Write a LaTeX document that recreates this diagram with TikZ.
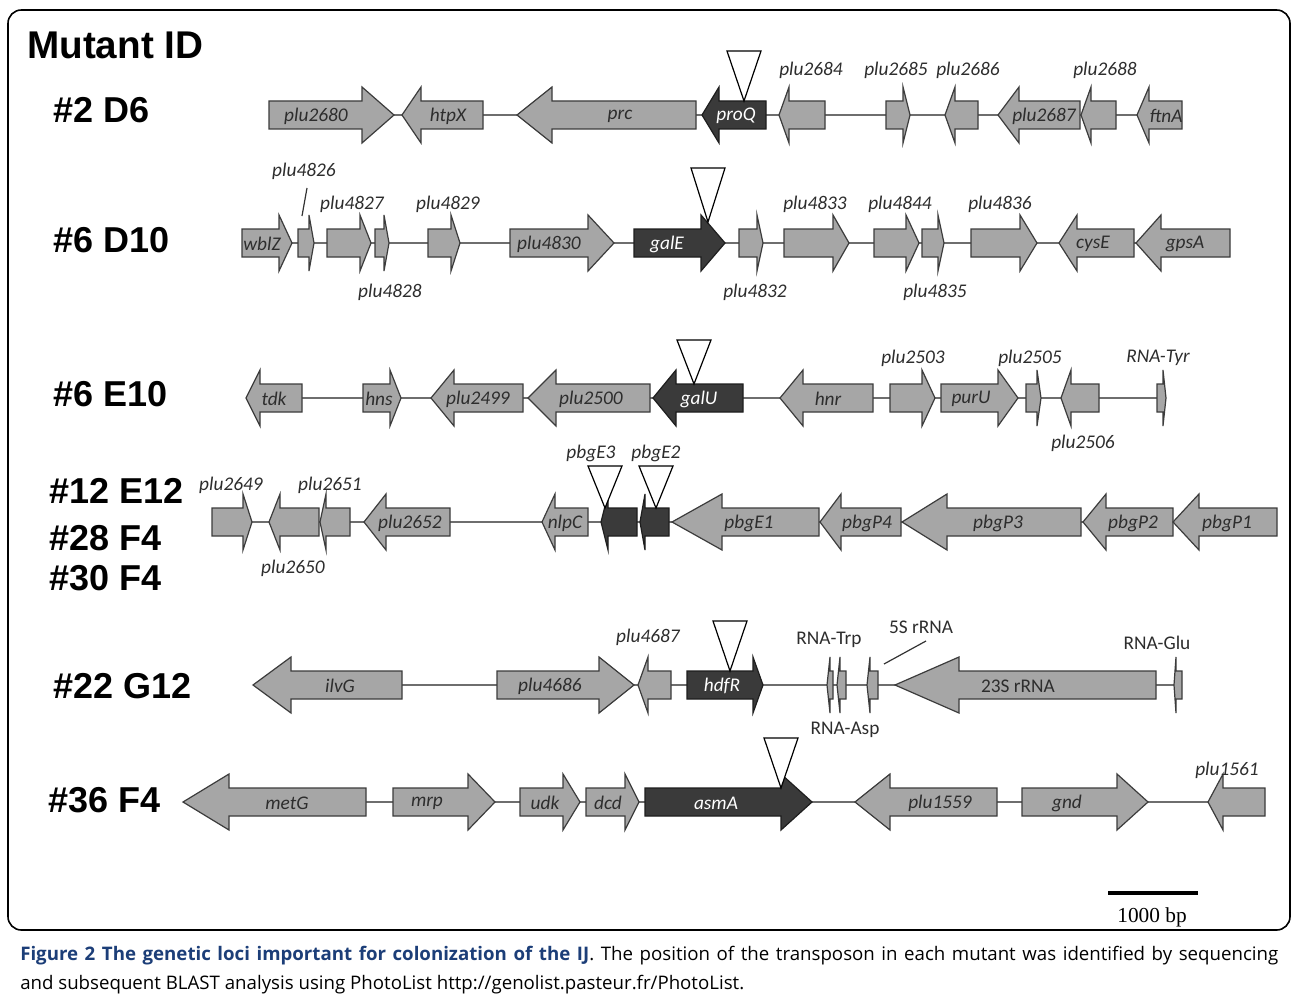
\documentclass[tikz,border=0pt]{standalone}
\usepackage{fontspec}
\setmainfont{Liberation Sans}
\newfontfamily\carl{Carlito}
\newfontfamily\osans{Open Sans}
\newfontfamily\lserif{Liberation Serif}
\definecolor{gfill}{RGB}{166,166,166}
\definecolor{gline}{RGB}{60,60,60}
\definecolor{dfill}{RGB}{58,58,58}
\definecolor{dline}{RGB}{30,30,30}
\definecolor{bbline}{RGB}{110,110,110}
\definecolor{labc}{RGB}{45,45,45}
\definecolor{capblue}{RGB}{28,62,120}
\newcommand{\genearrow}[6]{%
  \draw[#1] (#2,#5-14) -- (#3,#5-14) -- (#3,#5-28) -- (#4,#5) -- (#3,#5+28) -- (#3,#5+14) -- (#2,#5+14) -- cycle;
  \coordinate (#6) at ({(#2+#4)/2},#5);}
\newcommand{\tnmark}[4]{%
  \draw[tri] (#1-17,#2-#3) -- (#1+17,#2-#3) -- (#1,#2) -- cycle;
  \coordinate (#4) at (#1,#2);}
\tikzset{
  geneG/.style={fill=gfill, draw=gline, line width=0.9pt, line join=miter},
  geneD/.style={fill=dfill, draw=dline, line width=0.9pt, line join=miter},
  bb/.style={draw=bbline, line width=1.1pt},
  lab/.style={font=\carl\itshape\fontsize{14.5}{16}\selectfont, text=labc, inner sep=0pt},
  labw/.style={lab, text=white},
  labu/.style={font=\carl\fontsize{14.5}{16}\selectfont, text=labc, inner sep=0pt},
  tri/.style={draw=black, fill=white, line width=0.9pt, line join=miter},
  mid/.style={font=\bfseries\fontsize{27}{30}\selectfont, anchor=west, inner sep=0pt},
  leader/.style={draw=black!80, line width=0.9pt},
  frame/.style={draw=black, line width=1.2pt, rounded corners=10pt},
  capt/.style={font=\osans\fontsize{14}{16}\selectfont, anchor=west, inner sep=0pt},
}
\begin{document}
\begin{tikzpicture}[x=0.75pt,y=-0.75pt]
\useasboundingbox (0,0) rectangle (1293,999);
\fill[white] (0,0) rectangle (1293,999);
\draw[frame] (8,10) rectangle (1290,930);

% titles
\node[mid, font=\bfseries\fontsize{29}{32}\selectfont] (title) at (27,45) {Mutant ID};
\node[mid] (m1) at (53,110) {\#2 D6};
\node[mid] (m2) at (53,240) {\#6 D10};
\node[mid] (m3) at (53,394) {\#6 E10};
\node[mid] (m4a) at (49,491) {\#12 E12};
\node[mid] (m4b) at (49,538) {\#28 F4};
\node[mid] (m4c) at (49,578) {\#30 F4};
\node[mid] (m5) at (53,686) {\#22 G12};
\node[mid] (m6) at (48,800) {\#36 F4};

% ---------------- Row 1
\coordinate (r1s) at (269,115); \coordinate (r1e) at (1182,115);
\draw[bb] (r1s) -- (r1e);
\genearrow{geneG}{269}{362}{394}{115}{a1}
\genearrow{geneG}{483}{421}{402}{115}{a2}
\genearrow{geneG}{696}{552}{517}{115}{a3}
\genearrow{geneD}{766}{719}{702}{115}{a4}
\genearrow{geneG}{825}{789}{779}{115}{a5}
\genearrow{geneG}{886}{903}{910}{115}{a6}
\genearrow{geneG}{978}{955}{945}{115}{a7}
\genearrow{geneG}{1080}{1019}{998}{115}{a8}
\genearrow{geneG}{1116}{1091}{1081}{115}{a9}
\genearrow{geneG}{1182}{1149}{1137}{115}{a10}
\node[lab] (a1l) at (316,116) {plu2680};
\node[lab] (a2l) at (448,116) {htpX};
\node[lab] (a3l) at (620,116) {prc};
\node[labw] (a4l) at (736,116) {proQ};
\node[lab] (a5l) at (811,70) {plu2684};
\node[lab] (a6l) at (896,70) {plu2685};
\node[lab] (a7l) at (968,70) {plu2686};
\node[lab] (a8l) at (1044,116) {plu2687};
\node[lab] (a9l) at (1105,70) {plu2688};
\node[lab] (a10l) at (1166,116) {ftnA};
\tnmark{744}{101}{50}{t1}

% ---------------- Row 2
\coordinate (r2s) at (242,243); \coordinate (r2e) at (1230,243);
\draw[bb] (r2s) -- (r2e);
\genearrow{geneG}{242}{279}{292}{243}{b1}
\genearrow{geneG}{298}{309}{314}{243}{b2}
\genearrow{geneG}{327}{360}{371}{243}{b3}
\genearrow{geneG}{375}{384}{389}{243}{b4}
\genearrow{geneG}{428}{451}{460}{243}{b5}
\genearrow{geneG}{510}{588}{614}{243}{b6}
\genearrow{geneD}{634}{701}{725}{243}{b7}
\genearrow{geneG}{739}{757}{763}{243}{b8}
\genearrow{geneG}{784}{833}{849}{243}{b9}
\genearrow{geneG}{874}{906}{919}{243}{b10}
\genearrow{geneG}{922}{938}{944}{243}{b11}
\genearrow{geneG}{971}{1020}{1037}{243}{b12}
\genearrow{geneG}{1134}{1077}{1059}{243}{b13}
\genearrow{geneG}{1230}{1161}{1136}{243}{b14}
\node[lab] (b1l) at (262,244) {wblZ};
\node[lab] (b2l) at (304,171) {plu4826};
\coordinate (ld1a) at (307,188); \coordinate (ld1b) at (302,216);
\draw[leader] (ld1a) -- (ld1b);
\node[lab] (b3l) at (352,204) {plu4827};
\node[lab] (b4l) at (390,292) {plu4828};
\node[lab] (b5l) at (448,204) {plu4829};
\node[lab] (b6l) at (549,244) {plu4830};
\node[labw] (b7l) at (667,244) {galE};
\node[lab] (b8l) at (755,292) {plu4832};
\node[lab] (b9l) at (815,204) {plu4833};
\node[lab] (b10l) at (900,204) {plu4844};
\node[lab] (b11l) at (935,292) {plu4835};
\node[lab] (b12l) at (1000,204) {plu4836};
\node[lab] (b13l) at (1093,244) {cysE};
\node[lab] (b14l) at (1185,244) {gpsA};
\tnmark{708}{222}{54}{t2}

% ---------------- Row 3
\coordinate (r3s) at (246,398); \coordinate (r3e) at (1166,398);
\draw[bb] (r3s) -- (r3e);
\genearrow{geneG}{302}{260}{246}{398}{c1}
\genearrow{geneG}{363}{390}{401}{398}{c2}
\genearrow{geneG}{523}{454}{431}{398}{c3}
\genearrow{geneG}{650}{556}{528}{398}{c4}
\genearrow{geneD}{743}{676}{653}{398}{c5}
\genearrow{geneG}{873}{803}{780}{398}{c6}
\genearrow{geneG}{890}{922}{935}{398}{c7}
\genearrow{geneG}{941}{998}{1018}{398}{c8}
\genearrow{geneG}{1026}{1037}{1041}{398}{c9}
\genearrow{geneG}{1099}{1071}{1061}{398}{c10}
\genearrow{geneG}{1157}{1163}{1166}{398}{c11}
\node[lab] (c1l) at (274,399) {tdk};
\node[lab] (c2l) at (379,399) {hns};
\node[lab] (c3l) at (478,399) {plu2499};
\node[lab] (c4l) at (591,399) {plu2500};
\node[labw] (c5l) at (699,399) {galU};
\node[lab] (c6l) at (828,399) {hnr};
\node[lab] (c7l) at (913,358) {plu2503};
\node[lab] (c8l) at (971,399) {purU};
\node[lab] (c9l) at (1030,358) {plu2505};
\node[lab] (c10l) at (1083,443) {plu2506};
\node[lab] (c11l) at (1158,358) {RNA-Tyr};
\tnmark{694}{384}{44}{t3}

% ---------------- Row 4
\coordinate (r4s) at (212,522); \coordinate (r4e) at (1277,522);
\draw[bb] (r4s) -- (r4e);
\genearrow{geneG}{212}{243}{252}{522}{d1}
\genearrow{geneG}{319}{280}{269}{522}{d2}
\genearrow{geneG}{350}{326}{320}{522}{d3}
\genearrow{geneG}{450}{386}{364}{522}{d4}
\genearrow{geneG}{588}{555}{542}{522}{d5}
\genearrow{geneD}{637}{608}{601}{522}{d6}
\genearrow{geneD}{669}{645}{640}{522}{d7}
\genearrow{geneG}{819}{722}{672}{522}{d8}
\genearrow{geneG}{901}{841}{820}{522}{d9}
\genearrow{geneG}{1081}{947}{902}{522}{d10}
\genearrow{geneG}{1173}{1106}{1083}{522}{d11}
\genearrow{geneG}{1277}{1199}{1173}{522}{d12}
\node[lab] (d1l) at (231,485) {plu2649};
\node[lab] (d2l) at (293,568) {plu2650};
\node[lab] (d3l) at (330,485) {plu2651};
\node[lab] (d4l) at (410,523) {plu2652};
\node[lab] (d5l) at (565,523) {nlpC};
\node[lab] (d6l) at (591,453) {pbgE3};
\node[lab] (d7l) at (656,453) {pbgE2};
\node[lab] (d8l) at (749,523) {pbgE1};
\node[lab] (d9l) at (867,523) {pbgP4};
\node[lab] (d10l) at (998,523) {pbgP3};
\node[lab] (d11l) at (1133,523) {pbgP2};
\node[lab] (d12l) at (1227,523) {pbgP1};
\tnmark{605}{508}{42}{t4}
\tnmark{656}{508}{42}{t5}

% ---------------- Row 5
\coordinate (r5s) at (253,685); \coordinate (r5e) at (1182,685);
\draw[bb] (r5s) -- (r5e);
\genearrow{geneG}{402}{291}{253}{685}{e1}
\genearrow{geneG}{497}{599}{634}{685}{e2}
\genearrow{geneG}{671}{648}{638}{685}{e3}
\genearrow{geneD}{687}{753}{763}{685}{e4}
\genearrow{geneG}{833}{830}{827}{685}{e5}
\genearrow{geneG}{846}{840}{837}{685}{e6}
\genearrow{geneG}{878}{870}{867}{685}{e7}
\genearrow{geneG}{1156}{959}{895}{685}{e8}
\genearrow{geneG}{1182}{1176}{1174}{685}{e9}
\node[lab] (e1l) at (340,686) {ilvG};
\node[lab] (e2l) at (550,686) {plu4686};
\node[lab] (e3l) at (648,637) {plu4687};
\node[labw] (e4l) at (722,686) {hdfR};
\node[labu] (e5l) at (829,640) {RNA-Trp};
\node[labu] (e6l) at (845,730) {RNA-Asp};
\node[labu] (e7l) at (921,627) {5S rRNA};
\coordinate (ld2a) at (884,664); \coordinate (ld2b) at (926,641);
\draw[leader] (ld2a) -- (ld2b);
\node[labu] (e8l) at (1018,686) {23S rRNA};
\node[labu] (e9l) at (1157,643) {RNA-Glu};
\tnmark{730}{671}{50}{t6}

% ---------------- Row 6
\coordinate (r6s) at (183,802); \coordinate (r6e) at (1265,802);
\draw[bb] (r6s) -- (r6e);
\genearrow{geneG}{366}{229}{183}{802}{f1}
\genearrow{geneG}{393}{468}{495}{802}{f2}
\genearrow{geneG}{520}{563}{580}{802}{f3}
\genearrow{geneG}{586}{625}{639}{802}{f4}
\genearrow{geneD}{645}{781}{812}{802}{f5}
\genearrow{geneG}{997}{890}{855}{802}{f6}
\genearrow{geneG}{1022}{1117}{1148}{802}{f7}
\genearrow{geneG}{1265}{1223}{1208}{802}{f8}
\node[lab] (f1l) at (287,803) {metG};
\node[lab] (f2l) at (427,803) {mrp};
\node[lab] (f3l) at (545,803) {udk};
\node[lab] (f4l) at (608,803) {dcd};
\node[labw] (f5l) at (716,803) {asmA};
\node[lab] (f6l) at (940,803) {plu1559};
\node[lab] (f7l) at (1067,803) {gnd};
\node[lab] (f8l) at (1227,770) {plu1561};
\tnmark{781}{788}{50}{t7}

% scale bar
\coordinate (sb1) at (1108,893); \coordinate (sb2) at (1198,893);
\draw[line width=3.5pt] (sb1) -- (sb2);
\node[font=\lserif\fontsize{16}{18}\selectfont, inner sep=0pt] (sbl) at (1152,917) {1000 bp};

% caption
\node[capt] (cap1) at (20,956) {\makebox[943.5pt][s]{\textcolor{capblue}{\textbf{Figure 2 The genetic loci important for colonization of the IJ}}. The position of the transposon in each mutant was identified by sequencing}};
\node[capt] (cap2) at (20,985) {and subsequent BLAST analysis using PhotoList http://genolist.pasteur.fr/PhotoList.};
\end{tikzpicture}
\end{document}
